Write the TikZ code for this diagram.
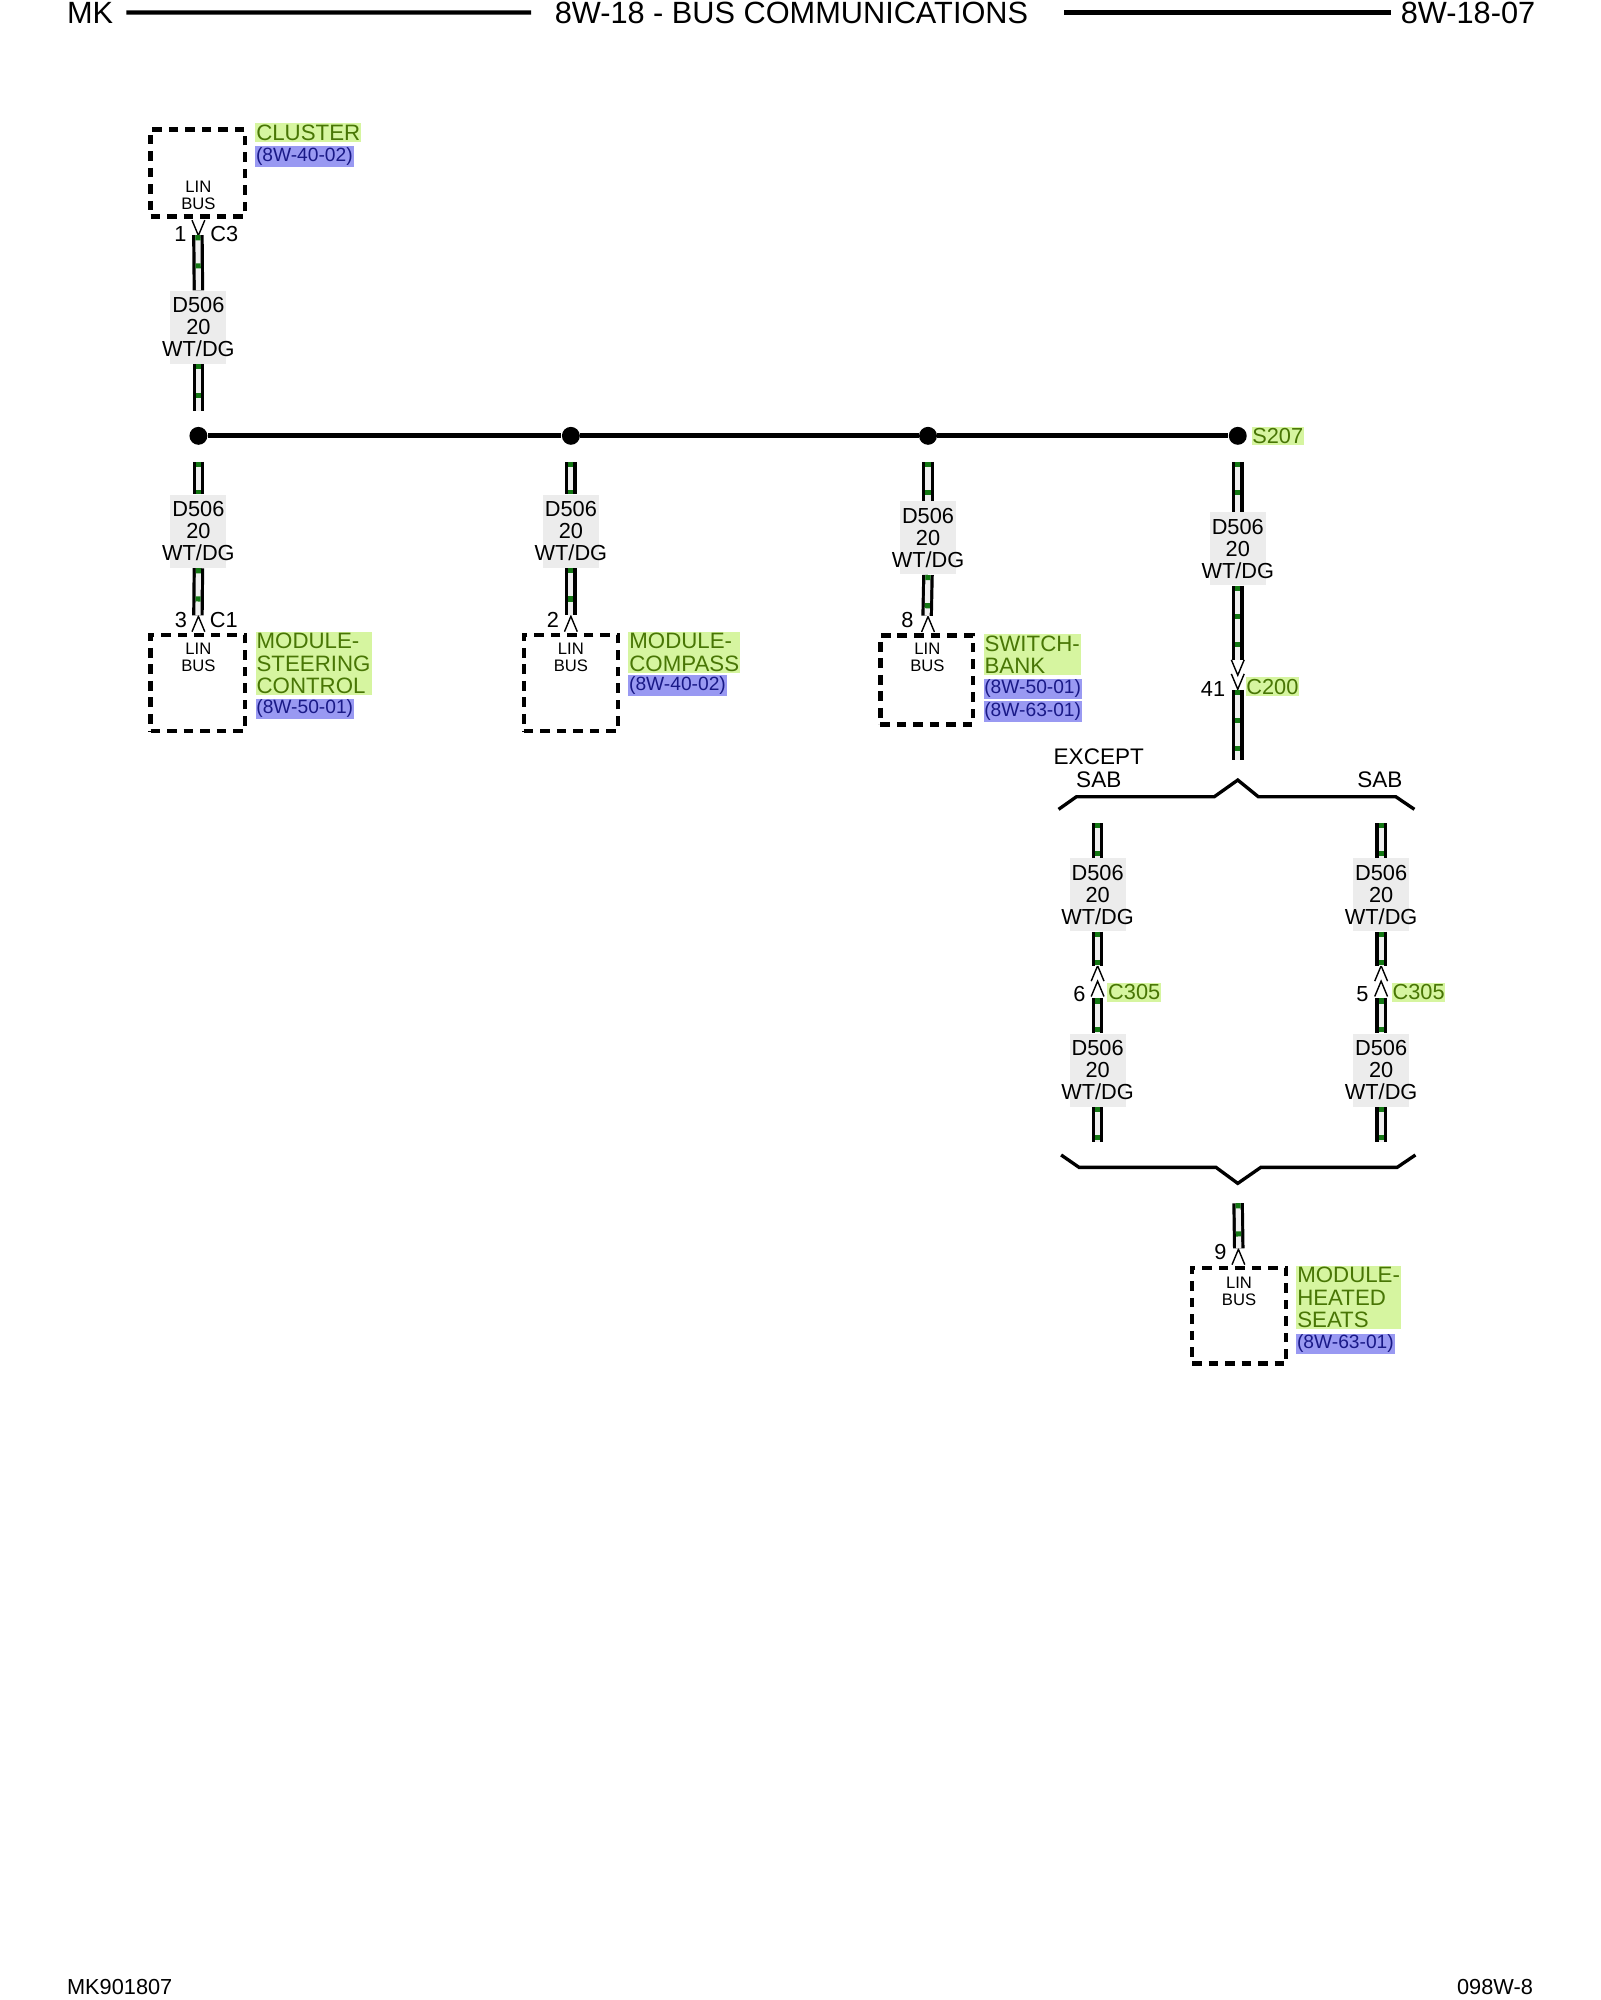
\documentclass[tikz,border=0pt]{standalone}
\usepackage{fontspec}
\setmainfont{Liberation Sans}
\usetikzlibrary{positioning}
\definecolor{namebg}{RGB}{214,245,160}
\definecolor{nametext}{RGB}{72,118,5}
\definecolor{refbg}{RGB}{153,153,242}
\definecolor{reftext}{RGB}{25,25,135}
\definecolor{labelbg}{RGB}{236,236,236}
\definecolor{wirefill}{RGB}{240,240,240}
\definecolor{wiregreen}{RGB}{20,120,20}
\tikzset{
  wire/.style={line width=4.5pt, draw=black, postaction={draw=wirefill, line width=2pt}, postaction={draw=wiregreen, line width=2pt, dash pattern=on 2pt off 9pt}},
  wirelab/.style={fill=labelbg, align=center, font=\fontsize{8.5}{8.65}\selectfont, inner xsep=-3.2pt, inner ysep=2.6pt},
  modbox/.style={draw, line width=1.75pt, dash pattern=on 3.75pt off 2.7pt, minimum width=36.75pt, inner sep=0},
  linbus/.style={align=center, font=\fontsize{6.5}{6.5}\selectfont, inner sep=0},
  namebox/.style={fill=namebg, text=nametext, font=\fontsize{8.7}{8.7}\selectfont, align=left, inner xsep=0.4pt, inner ysep=0.65pt, anchor=north west},
  refbox/.style={fill=refbg, text=reftext, font=\fontsize{7.5}{7.5}\selectfont, inner xsep=0.3pt, inner ysep=0.5pt, anchor=north west},
  splicename/.style={fill=namebg, text=nametext, font=\fontsize{8.5}{8.5}\selectfont, inner xsep=0.3pt, inner ysep=0.6pt, anchor=west},
  pinno/.style={font=\fontsize{8.5}{8.5}\selectfont, inner sep=0},
  optlab/.style={align=center, font=\fontsize{8.8}{8.85}\selectfont, inner sep=0},
  headtext/.style={font=\fontsize{12}{12}\selectfont, inner sep=0, anchor=base west},
  pinline/.style={line width=0.55pt},
  pinv/.pic={\draw[pinline] (-5,-6)--(0,6)--(5,-6);},
  pina/.pic={\draw[pinline] (-5,6)--(0,-6)--(5,6);},
  splice/.style={circle, fill, inner sep=0, minimum size=7pt},
  bus/.style={line width=2pt},
  bracket/.style={line width=1.3pt},
  headline/.style={line width=1.6pt}
}
\begin{document}
\begin{tikzpicture}[x=0.5pt, y=-0.5pt]
  \useasboundingbox (0,0) rectangle (1250,1562.5);
  % header and footer
  \node[headtext] (mk) at (52,18) {MK};
  \node[headtext] (title) at (433,18) {8W-18 - BUS COMMUNICATIONS};
  \node[headtext] (page) at (1094,18) {8W-18-07};
  \draw[headline] ([xshift=5pt]mk.east) -- ([xshift=-9pt]title.west);
  \draw[headline] ([xshift=14pt]title.east) -- ([xshift=-3.5pt]page.west);
  \node[pinno, anchor=base west] (docno) at (52,1558.5) {MK901807};
  \node[pinno, anchor=base east] (pageno) at (1198,1558.5) {098W-8};

  % modules
  \node[modbox, minimum height=34pt] (cluster) at (154.5,135) {};
  \node[modbox, minimum height=37.5pt] (steering) at (154.5,533.5) {};
  \node[modbox, minimum height=37.5pt] (compass) at (446,533.5) {};
  \node[modbox, minimum width=36.25pt, minimum height=34.7pt] (switchbank) at (724,531.3) {};
  \node[modbox, minimum height=37.4pt] (heated) at (968,1028) {};
  \node[linbus] (clusterbus) at (155,152.5) {LIN\\BUS};
  \foreach \x/\y/\n in {155/513.8/steerbus, 446/513.8/compassbus, 724.5/513.8/switchbus, 968/1009/heatedbus}
    \node[linbus] (\n) at (\x,\y) {LIN\\BUS};

  \node[namebox] (clustername) at (199,95.6) {CLUSTER};
  \node[refbox] (clusterref) at ([yshift=-1.2pt]clustername.south west) {(8W-40-02)};
  \node[namebox] (steername) at (199.3,493) {MODULE-\\STEERING\\CONTROL};
  \node[refbox] (steerref) at ([yshift=-1pt]steername.south west) {(8W-50-01)};
  \node[namebox] (compassname) at (490.5,493) {MODULE-\\COMPASS};
  \node[refbox] (compassref) at ([yshift=-0.5pt]compassname.south west) {(8W-40-02)};
  \node[namebox] (switchname) at (768,494.8) {SWITCH-\\BANK};
  \node[refbox] (switchref) at ([yshift=-1pt]switchname.south west) {(8W-50-01)};
  \node[refbox] (switchrefb) at ([yshift=-0.5pt]switchref.south west) {(8W-63-01)};
  \node[namebox] (heatedname) at (1012.3,988.3) {MODULE-\\HEATED\\SEATS};
  \node[refbox] (heatedref) at ([yshift=-1.3pt]heatedname.south west) {(8W-63-01)};

  % bus and splice
  \node[splice] (j1) at (155,340.5) {};
  \node[splice] (j2) at (446,340.5) {};
  \node[splice] (j3) at (725,340.5) {};
  \node[splice] (j4) at (967,340.5) {};
  \draw[bus] (j1) -- (j2) -- (j3) -- (j4);
  \node[splicename] (s207) at (977.4,340.5) {S207};

  % wire labels
  \node[wirelab] (clab) at (155,255.75) {D506\\20\\WT/DG};
  \node[wirelab] (lab1) at (155,415) {D506\\20\\WT/DG};
  \node[wirelab] (lab2) at (446,415) {D506\\20\\WT/DG};
  \node[wirelab] (lab3) at (725,420.3) {D506\\20\\WT/DG};
  \node[wirelab] (lab4) at (967,428.7) {D506\\20\\WT/DG};
  \node[wirelab] (lab5) at (857.5,699) {D506\\20\\WT/DG};
  \node[wirelab] (lab6) at (857.5,836) {D506\\20\\WT/DG};
  \node[wirelab] (lab7) at (1079,699) {D506\\20\\WT/DG};
  \node[wirelab] (lab8) at (1079,836) {D506\\20\\WT/DG};

  % connectors
  \coordinate (c200) at (967,527);
  \coordinate (c305l) at (857.5,767);
  \coordinate (c305r) at (1079,767);
  \pic at (155,178) {pinv};
  \pic at (155,487.5) {pina};
  \pic at (446,487.5) {pina};
  \pic at (725,487.7) {pina};
  \pic at (967.5,982) {pina};
  \pic at (967,521.5) {pinv};
  \pic at (967,532.5) {pinv};
  \pic at (857.5,760.5) {pina};
  \pic at (857.5,772.5) {pina};
  \pic at (1079,760.5) {pina};
  \pic at (1079,772.5) {pina};
  \node[pinno, anchor=east] (pin1) at (146,183) {1};
  \node[pinno, anchor=west] (c3) at (164,183) {C3};
  \node[pinno, anchor=east] (pin3) at (146.5,484) {3};
  \node[pinno, anchor=west] (c1) at (163.5,484) {C1};
  \node[pinno, anchor=east] (pin2) at (437,484) {2};
  \node[pinno, anchor=east] (pin8) at (714,484.5) {8};
  \node[pinno, anchor=east] (pin41) at (957.5,538) {41};
  \node[splicename] (c200name) at (972.7,536.5) {C200};
  \node[pinno, anchor=east] (pin6) at (848.5,776.5) {6};
  \node[splicename] (c305lname) at (864.8,775.3) {C305};
  \node[pinno, anchor=east] (pin5) at (1069.5,776.5) {5};
  \node[splicename] (c305rname) at (1087,775.3) {C305};
  \node[pinno, anchor=east] (pin9) at (958.5,978) {9};

  % brackets
  \coordinate (fork) at (967,609.4);
  \coordinate (forkl) at (857.5,622.4);
  \coordinate (forkr) at (1079,622.4);
  \coordinate (join) at (967,924.5);
  \coordinate (joinl) at (857.5,912);
  \coordinate (joinr) at (1079,912);
  \draw[bracket] (827,632.3) -- (841,622.4) -- (forkl) -- (948.7,622.4) -- (fork) -- (983,622.4) -- (forkr) -- (1090.4,622.4) -- (1105,632.3);
  \draw[bracket] (829,902.3) -- (843,912) -- (joinl) -- (950,912) -- (join) -- (985,912) -- (joinr) -- (1091.5,912) -- (1105.8,902.3);
  \node[optlab] (except) at (858.4,600) {EXCEPT\\SAB};
  \node[optlab] (sab) at (1078,608.8) {SAB};

  % wires
  \draw[wire, shorten <=6.5pt] (cluster.south) -- (clab.north);
  \draw[wire, shorten >=6pt] (clab.south) -- (j1);
  \draw[wire, shorten <=6.5pt] (j1) -- (lab1.north);
  \draw[wire, shorten >=6.75pt] (lab1.south) -- (steering.north);
  \draw[wire, shorten <=6.5pt] (j2) -- (lab2.north);
  \draw[wire, shorten >=6.75pt] (lab2.south) -- (compass.north);
  \draw[wire, shorten <=6.5pt] (j3) -- (lab3.north);
  \draw[wire, shorten >=6.9pt] (lab3.south) -- (switchbank.north);
  \draw[wire, shorten <=6.5pt] (j4) -- (lab4.north);
  \draw[wire, shorten >=5.5pt] (lab4.south) -- (c200);
  \draw[wire, shorten <=6pt, shorten >=7.7pt] (c200) -- (fork);
  \draw[wire, shorten <=10.3pt] (forkl) -- (lab5.north);
  \draw[wire, shorten >=6pt] (lab5.south) -- (c305l);
  \draw[wire, shorten <=6.5pt] (c305l) -- (lab6.north);
  \draw[wire, shorten >=10pt] (lab6.south) -- (joinl);
  \draw[wire, shorten <=10.3pt] (forkr) -- (lab7.north);
  \draw[wire, shorten >=6pt] (lab7.south) -- (c305r);
  \draw[wire, shorten <=6.5pt] (c305r) -- (lab8.north);
  \draw[wire, shorten >=10pt] (lab8.south) -- (joinr);
  \draw[wire, shorten <=7.75pt, shorten >=6.8pt] (join) -- (heated.north);
\end{tikzpicture}
\end{document}
